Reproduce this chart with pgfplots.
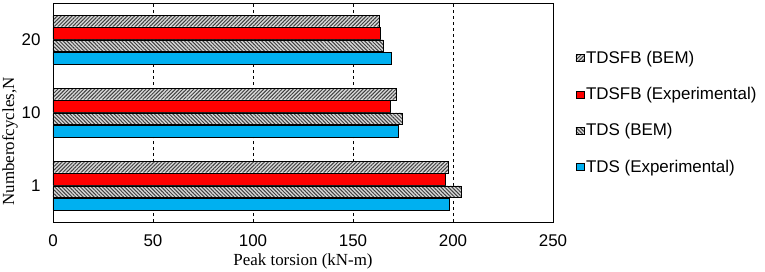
\documentclass[border=0pt]{standalone}
\usepackage{fontspec}
\setmainfont{Liberation Sans}
\newfontfamily\serif{Liberation Serif}
\usepackage{pgfplots}
\pgfplotsset{compat=1.18}
\usetikzlibrary{patterns.meta}
\definecolor{tdsblue}{RGB}{0,176,240}
\definecolor{tdsred}{RGB}{255,0,0}
\begin{document}
\begin{tikzpicture}
\begin{axis}[
  at={(0,0)}, anchor=south west,
  scale only axis, width=500bp, height=219bp,
  xbar, bar width=0.16,
  xmin=0, xmax=250, ymin=-0.5, ymax=2.5,
  xtick={0,50,100,150,200,250},
  ytick={0,1,2}, yticklabels={1,10,20},
  major tick length=0pt,
  xmajorgrids, grid style={black, dashed, line width=0.8pt},
  axis line style={black, line width=0.8pt},
  tick label style={font=\fontsize{17}{19}\selectfont},
  xticklabel style={yshift=-9bp},
  yticklabel style={xshift=-9bp},
  /pgf/number format/assume math mode=true,
  xlabel={\serif Peak torsion (kN-m)},
  ylabel={\serif Numberofcycles,N},
  label style={font=\fontsize{17}{19}\selectfont},
  xlabel style={yshift=0bp},
  ylabel style={yshift=-3bp, xshift=-29bp},
  legend cell align=left,
  legend style={draw=none, fill=none, inner sep=0pt, at={(1.045,0.79)}, anchor=north west,
    font=\fontsize{17}{19}\selectfont, row sep=18.5bp,
    /tikz/every even column/.append style={column sep=4bp}},
  legend image code/.code={\draw[#1] (0bp,-3.5bp) rectangle (8bp,3.5bp);},
]
\addplot[draw=black, fill=black!15, postaction={pattern={Lines[angle=45, distance=2.6bp, line width=1bp]}, pattern color=black!75}, bar shift=0.255] coordinates {(197.5,0) (171.7,1) (162.9,2)};
\addlegendentry{TDSFB (BEM)}
\addplot[draw=black, fill=tdsred, bar shift=0.085] coordinates {(196.3,0) (168.5,1) (163.4,2)};
\addlegendentry{TDSFB (Experimental)}
\addplot[draw=black, fill=black!15, postaction={pattern={Lines[angle=-45, distance=2.6bp, line width=1bp]}, pattern color=black!75}, bar shift=-0.085] coordinates {(204,0) (174.5,1) (165,2)};
\addlegendentry{TDS (BEM)}
\addplot[draw=black, fill=tdsblue, bar shift=-0.255] coordinates {(198.3,0) (172.5,1) (169.2,2)};
\addlegendentry{TDS (Experimental)}
\end{axis}
\pgfresetboundingbox
\path[use as bounding box] (-53bp,-50bp) rectangle (712bp,222bp);
\end{tikzpicture}
\end{document}
